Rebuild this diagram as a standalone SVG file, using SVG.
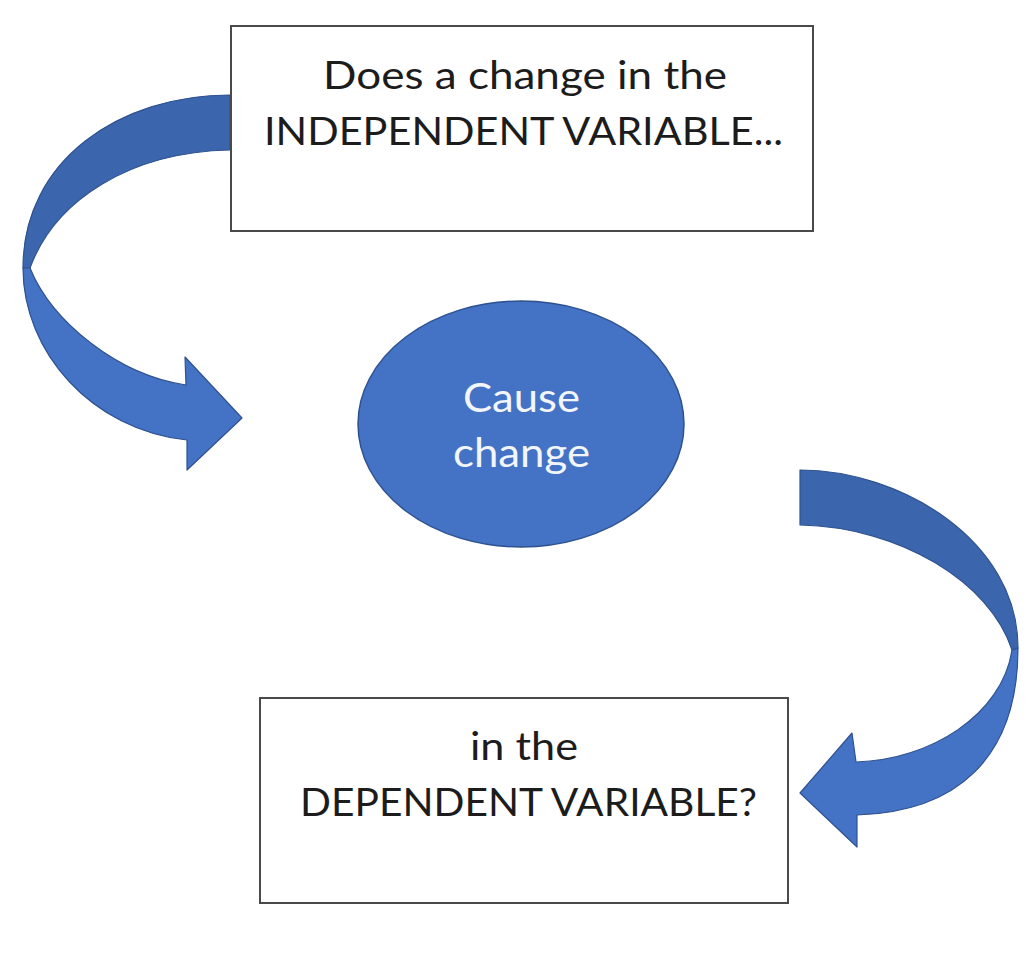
<svg xmlns="http://www.w3.org/2000/svg" width="1030" height="954" viewBox="0 0 1030 954">
  <style>
    .box { fill: #ffffff; stroke: #4a4a4a; stroke-width: 2; }
    .txt { font-family: Lato, "Open Sans", "Liberation Sans", sans-serif; font-size: 39px; fill: #1c1c1c; text-anchor: start; }
    .wtxt { font-family: Lato, "Open Sans", "Liberation Sans", sans-serif; font-size: 40px; fill: #f2f5fb; text-anchor: start; }
    .dark { fill: #3b65ad; stroke: #2f528f; stroke-width: 1.2; stroke-linejoin: round; }
    .light { fill: #4472c4; stroke: #2f528f; stroke-width: 1.2; stroke-linejoin: round; }
  </style>
  <rect width="1030" height="954" fill="#ffffff"/>
  <g id="connectors">
    <g id="arrow-left">
      <path class="dark" d="M230,95 C120,95 23,160 23,268 L30,268 C55,200 130,152 230,150 Z"/>
      <path class="light" d="M30,268 C52,322 118,375 186,385 L185,357 L242,418 L187,470 L187,440 C92,430 23,352 23,268 Z"/>
    </g>
    <g id="arrow-right">
      <path class="dark" d="M800,470 C900,470 1018,540 1018,648 L1012,650 C990,582 900,527 800,525 Z"/>
      <path class="light" d="M1012,650 C1002,715 930,760 856,762 L852,733 L800,793 L857,847 L857,815 C955,812 1018,760 1018,648 Z"/>
    </g>
  </g>
  <g id="node-independent">
    <rect class="box" x="231" y="26" width="582" height="205"/>
    <text class="txt" x="323" y="89" textLength="404" lengthAdjust="spacingAndGlyphs">Does a change in the</text>
    <text class="txt" x="264" y="145" textLength="519" lengthAdjust="spacingAndGlyphs">INDEPENDENT VARIABLE...</text>
  </g>
  <g id="node-cause">
    <ellipse cx="521" cy="424" rx="163" ry="123" fill="#4472c4" stroke="#2f528f" stroke-width="1.5"/>
    <text class="wtxt" x="463" y="412" textLength="117" lengthAdjust="spacingAndGlyphs">Cause</text>
    <text class="wtxt" x="453" y="467" textLength="137" lengthAdjust="spacingAndGlyphs">change</text>
  </g>
  <g id="node-dependent">
    <rect class="box" x="260" y="698" width="528" height="205"/>
    <text class="txt" x="470" y="760" textLength="108" lengthAdjust="spacingAndGlyphs">in the</text>
    <text class="txt" x="300" y="816" textLength="457" lengthAdjust="spacingAndGlyphs">DEPENDENT VARIABLE?</text>
  </g>
</svg>
